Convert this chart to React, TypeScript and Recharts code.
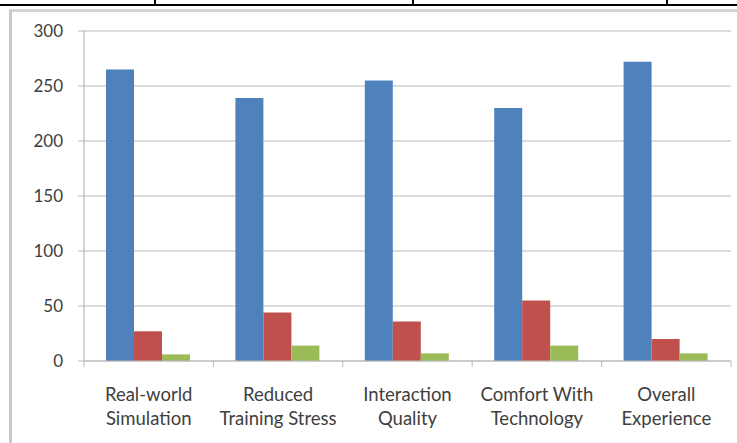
import { BarChart, Bar, XAxis, YAxis, CartesianGrid } from "recharts";

const categories = [
  "Real-world\nSimulation",
  "Reduced\nTraining Stress",
  "Interaction\nQuality",
  "Comfort With\nTechnology",
  "Overall\nExperience",
];
const seriesA = [265, 239, 255, 230, 272];
const seriesB = [27, 44, 36, 55, 20];
const seriesC = [6, 14, 7, 14, 7];
const yTicks = [0, 50, 100, 150, 200, 250, 300];

const rows = categories.map((name, i) => ({
  name,
  a: seriesA[i],
  b: seriesB[i],
  c: seriesC[i],
}));

const FONT = "Lato, 'Open Sans', sans-serif";
const GRID = "#b9b9b9";
const INK = "#404040";

// two-line category label plus Excel-style tick marks between categories
function CategoryTick(props: any) {
  const { x, y, payload, index } = props;
  const half = payload?.offset ?? 0;
  const lines = String(payload.value).split("\n");
  return (
    <g>
      <line x1={x - half} x2={x - half} y1={y} y2={y + 6} stroke={GRID} />
      {index === categories.length - 1 && (
        <line x1={x + half} x2={x + half} y1={y} y2={y + 6} stroke={GRID} />
      )}
      {lines.map((l, i) => (
        <text
          key={i}
          x={x}
          y={y + 33 + i * 24.5}
          dy="0.355em"
          textAnchor="middle"
          fill={INK}
          fontSize={18.5}
          fontFamily={FONT}
        >
          {l}
        </text>
      ))}
    </g>
  );
}

export default function App() {
  return (
    <div
      style={{
        position: "absolute",
        left: 0,
        top: 0,
        width: 737,
        height: 443,
        background: "#fff",
        overflow: "hidden",
      }}
    >
      {/* table rule above the chart */}
      <div style={{ position: "absolute", left: 0, top: 4, width: 737, height: 2, background: "#000" }} />
      {[154, 412, 666].map((x) => (
        <div key={x} style={{ position: "absolute", left: x, top: 0, width: 1.5, height: 5, background: "#000" }} />
      ))}
      {/* chart frame */}
      <div
        style={{
          position: "absolute",
          left: 9,
          top: 9,
          width: 740,
          height: 450,
          borderLeft: "3px solid #c9c9c9",
          borderTop: "3px solid #d2d2d2",
        }}
      />
      <div style={{ position: "absolute", left: 0, top: 0 }}>
        <BarChart
          width={737}
          height={443}
          data={rows}
          margin={{ top: 31, right: 6, bottom: 0, left: 0 }}
          barCategoryGap="17%"
          barGap={0}
        >
          <CartesianGrid vertical={false} stroke={GRID} strokeWidth={1.2} />
          <XAxis
            dataKey="name"
            height={82}
            interval={0}
            axisLine={{ stroke: GRID, strokeWidth: 1.2 }}
            tickLine={false}
            tickSize={0}
            tickMargin={0}
            tick={<CategoryTick />}
          />
          <YAxis
            width={84}
            domain={[0, 300]}
            ticks={yTicks}
            interval={0}
            axisLine={{ stroke: GRID, strokeWidth: 1.2 }}
            tickLine={{ stroke: GRID }}
            tickSize={6}
            tickMargin={15}
            tick={{ fill: INK, fontSize: 17, fontFamily: FONT }}
          />
          <Bar dataKey="a" fill="#4F81BD" isAnimationActive={false} />
          <Bar dataKey="b" fill="#C0504D" isAnimationActive={false} />
          <Bar dataKey="c" fill="#9BBB59" isAnimationActive={false} />
        </BarChart>
      </div>
    </div>
  );
}
